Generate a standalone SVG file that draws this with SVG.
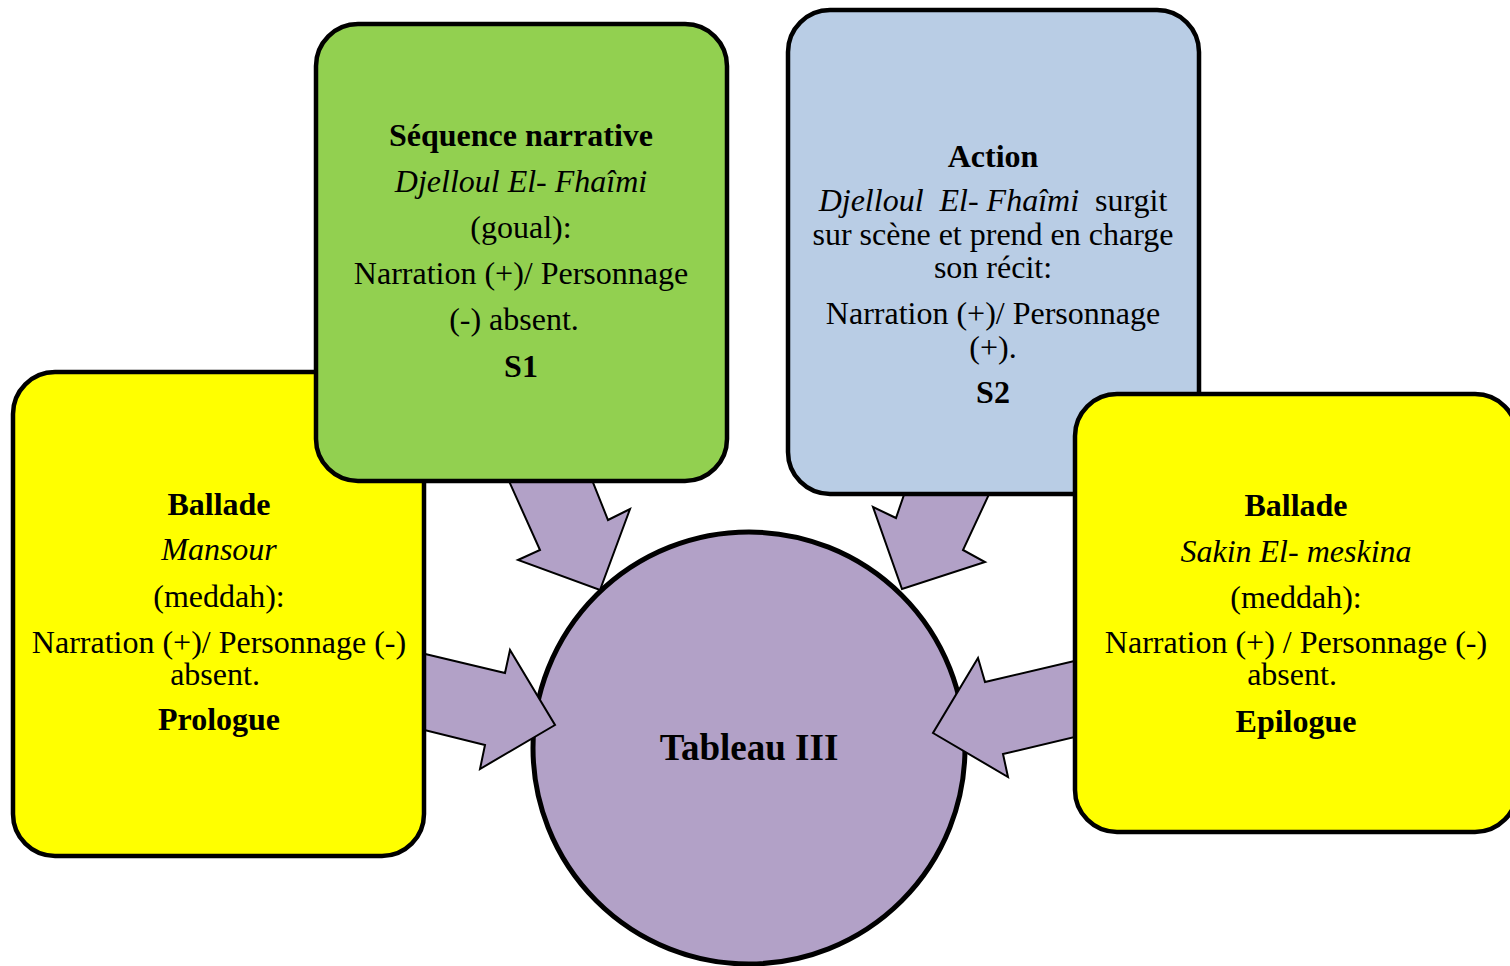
<svg xmlns="http://www.w3.org/2000/svg" width="1510" height="966" viewBox="0 0 1510 966">
<style>
.box{stroke:#000;stroke-width:4.5}
.arrow{fill:#b2a1c7;stroke:#000;stroke-width:2;stroke-linejoin:miter}
text{font-family:"Liberation Serif","Times New Roman",serif;font-size:32px;fill:#000;text-anchor:middle}
.b{font-weight:bold}
.i{font-style:italic}
.pre{white-space:pre}
</style>
<rect width="1510" height="966" fill="#fff"/>
<g id="tableau">
<circle cx="749" cy="748" r="216" fill="#b2a1c7" stroke="#000" stroke-width="5"/>
<text x="749" y="760" class="b" style="font-size:37px">Tableau III</text>
</g>
<g id="connectors">
<polygon class="arrow" points="495,450 580,450 608,520 630,509 600,590 518,560 540,550"/>
<polygon class="arrow" points="400,648 505,673 510,650 555,725 480,769 485,745 400,724"/>
<polygon class="arrow" points="916,460 1005,460 963,550 985,562 902,589 873,507 896,518"/>
<polygon class="arrow" points="1100,655 985,682 978,658 933,733 1008,777 1003,754 1100,731"/>
</g>
<g id="prologue">
<rect class="box" x="13" y="372" width="411" height="484" rx="42" fill="#ffff00"/>
<text x="219" y="515" class="b">Ballade</text>
<text x="219" y="560" class="i">Mansour</text>
<text x="219" y="607">(meddah):</text>
<text x="219" y="653">Narration (+)/ Personnage (-)</text>
<text x="215" y="685">absent.</text>
<text x="219" y="730" class="b">Prologue</text>
</g>
<g id="s1">
<rect class="box" x="316" y="24" width="411" height="457" rx="42" fill="#92d050"/>
<text x="521" y="146" class="b">Séquence narrative</text>
<text x="521" y="192" class="i">Djelloul El- Fhaîmi</text>
<text x="521" y="238">(goual):</text>
<text x="521" y="284">Narration (+)/ Personnage</text>
<text x="514" y="330">(-) absent.</text>
<text x="521" y="377" class="b">S1</text>
</g>
<g id="s2">
<rect class="box" x="788" y="10" width="411" height="484" rx="42" fill="#b9cde5"/>
<text x="993" y="167" class="b">Action</text>
<text x="993" y="211" class="pre"><tspan class="i">Djelloul  El- Fhaîmi</tspan>  surgit</text>
<text x="993" y="245">sur scène et prend en charge</text>
<text x="993" y="278">son récit:</text>
<text x="993" y="324">Narration (+)/ Personnage</text>
<text x="993" y="358">(+).</text>
<text x="993" y="403" class="b">S2</text>
</g>
<g id="epilogue">
<rect class="box" x="1075" y="394" width="442" height="438" rx="42" fill="#ffff00"/>
<text x="1296" y="516" class="b">Ballade</text>
<text x="1296" y="562" class="i">Sakin El- meskina</text>
<text x="1296" y="608">(meddah):</text>
<text x="1296" y="653">Narration (+) / Personnage (-)</text>
<text x="1292" y="685">absent.</text>
<text x="1296" y="732" class="b">Epilogue</text>
</g>
</svg>
